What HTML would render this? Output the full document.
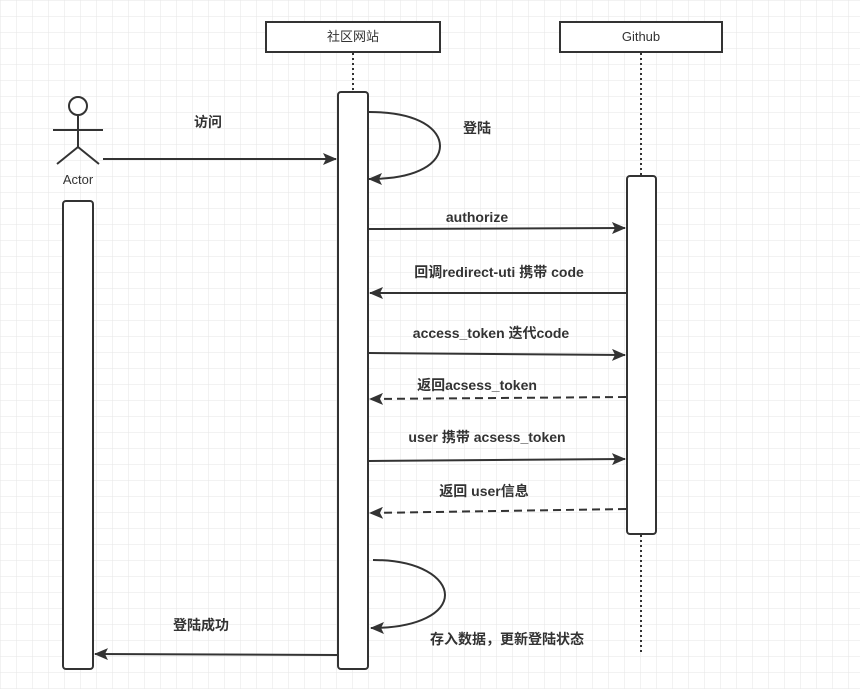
<!DOCTYPE html>
<html><head><meta charset="utf-8"><style>
body{margin:0;background:#fff}
svg{display:block}
text{font-family:"Liberation Sans","Noto Sans CJK SC",sans-serif;fill:#333}
.b{font-weight:bold;font-size:14px}
</style></head><body>
<svg width="860" height="689" xmlns="http://www.w3.org/2000/svg">
<defs>
<pattern id="g" width="16" height="16" patternUnits="userSpaceOnUse" x="1" y="1">
<path d="M16 0V16M0 16H16" stroke="#e6e6e6" stroke-width="1" fill="none"/>
</pattern>
<marker id="a" markerWidth="14" markerHeight="12" refX="13" refY="6" orient="auto" markerUnits="userSpaceOnUse">
<path d="M0,0 L14,6 L0,12 L3,6z" fill="#333"/>
</marker>
</defs>
<rect width="860" height="689" fill="url(#g)"/>
<g stroke="#333" stroke-width="2" fill="#fff">
<rect x="266" y="22" width="174" height="30"/>
<rect x="560" y="22" width="162" height="30"/>
</g>
<text x="353" y="41" text-anchor="middle" font-size="13">社区网站</text>
<text x="641" y="41" text-anchor="middle" font-size="13">Github</text>
<g stroke="#333" stroke-width="2" stroke-dasharray="2,3" fill="none">
<line x1="353" y1="53" x2="353" y2="92"/>
<line x1="641" y1="53" x2="641" y2="176"/>
<line x1="641" y1="535" x2="641" y2="655"/>
</g>
<g stroke="#333" stroke-width="2" fill="#fff">
<rect x="338" y="92" width="30" height="577" rx="3"/>
<rect x="627" y="176" width="29" height="358" rx="3"/>
<rect x="63" y="201" width="30" height="468" rx="3"/>
<circle cx="78" cy="106" r="9"/>
</g>
<g stroke="#333" stroke-width="2" fill="none">
<line x1="78" y1="115" x2="78" y2="147"/>
<line x1="53" y1="130" x2="103" y2="130"/>
<line x1="57" y1="164" x2="78" y2="147"/>
<line x1="99" y1="164" x2="78" y2="147"/>
<line x1="103" y1="159" x2="336" y2="159" marker-end="url(#a)"/>
<path d="M369,112 C420,112 440,130 440,146 C440,162 420,179 369,179" marker-end="url(#a)"/>
<line x1="369" y1="229" x2="625" y2="228" marker-end="url(#a)"/>
<line x1="626" y1="293" x2="370" y2="293" marker-end="url(#a)"/>
<line x1="369" y1="353" x2="625" y2="355" marker-end="url(#a)"/>
<line x1="626" y1="397" x2="370" y2="399" stroke-dasharray="8,5" marker-end="url(#a)"/>
<line x1="369" y1="461" x2="625" y2="459" marker-end="url(#a)"/>
<line x1="626" y1="509" x2="370" y2="513" stroke-dasharray="8,5" marker-end="url(#a)"/>
<path d="M373,560 C420,560 445,578 445,595 C445,612 420,628 371,628" marker-end="url(#a)"/>
<line x1="337" y1="655" x2="95" y2="654" marker-end="url(#a)"/>
</g>
<text x="78" y="184" text-anchor="middle" font-size="13">Actor</text>
<text class="b" x="208" y="127" text-anchor="middle">访问</text>
<text class="b" x="463" y="133">登陆</text>
<text class="b" x="477" y="222" text-anchor="middle">authorize</text>
<text class="b" x="499" y="277" text-anchor="middle">回调redirect-uti 携带 code</text>
<text class="b" x="491" y="338" text-anchor="middle">access_token 迭代code</text>
<text class="b" x="477" y="390" text-anchor="middle">返回acsess_token</text>
<text class="b" x="487" y="442" text-anchor="middle">user 携带 acsess_token</text>
<text class="b" x="484" y="496" text-anchor="middle">返回 user信息</text>
<text class="b" x="507" y="644" text-anchor="middle">存入数据，更新登陆状态</text>
<text class="b" x="201" y="630" text-anchor="middle">登陆成功</text>
</svg>
</body></html>
